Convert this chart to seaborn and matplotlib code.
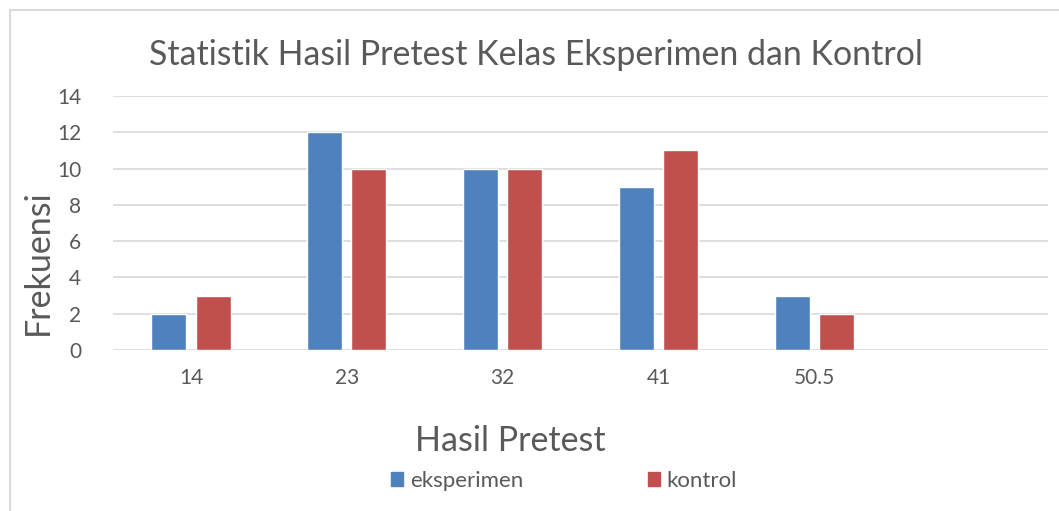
import pandas as pd
import matplotlib.pyplot as plt
import seaborn as sns
from matplotlib.patches import Rectangle
from matplotlib.lines import Line2D

# Data
categories = ['14', '23', '32', '41', '50.5']
eksperimen = [2, 12, 10, 9, 3]
kontrol = [3, 10, 10, 11, 2]

df = pd.DataFrame({
    'Hasil Pretest': categories * 2,
    'Frekuensi': eksperimen + kontrol,
    'kelas': ['eksperimen'] * len(categories) + ['kontrol'] * len(categories),
})

sns.set_style('white')
plt.rcParams['font.family'] = ['Lato', 'DejaVu Sans']
text_color = '#595959'
grid_color = '#D9D9D9'

W, H = 1059, 511
fig = plt.figure(figsize=(W / 100, H / 100), dpi=100)
ax = fig.add_axes([113 / W, 1 - 350 / H, (1048 - 113) / W, (350 - 96) / H])

sns.barplot(data=df, x='Hasil Pretest', y='Frekuensi', hue='kelas',
            order=categories, palette=['#4F81BD', '#C0504D'], saturation=1,
            width=0.57, gap=0.21, ax=ax, legend=False)

ax.set_xlim(-0.5, 5.5)
ax.set_ylim(0, 14)
ax.set_yticks(range(0, 15, 2))
ax.yaxis.grid(True, color=grid_color, linewidth=1.2)
ax.set_axisbelow(True)
for s in ax.spines.values():
    s.set_visible(False)
ax.tick_params(axis='both', length=0, labelsize=15, colors=text_color)
ax.tick_params(axis='x', pad=13)
ax.tick_params(axis='y', pad=23)
ax.set_xlabel('')
ax.set_ylabel('')

fig.text(536 / W, 1 - 55 / H, 'Statistik Hasil Pretest Kelas Eksperimen dan Kontrol',
         ha='center', va='center', fontsize=24.4, color=text_color)
fig.text(38 / W, 1 - 262 / H, 'Frekuensi', rotation=90, ha='center', va='center',
         fontsize=24.5, color=text_color)
fig.text(510 / W, 1 - 441 / H, 'Hasil Pretest', ha='center', va='center',
         fontsize=24.5, color=text_color)

# legend
handles = [Rectangle((0, 0), 1, 1, color='#4F81BD'), Rectangle((0, 0), 1, 1, color='#C0504D')]
fig.legend(handles, ['eksperimen', 'kontrol'], loc='center', ncol=2,
           bbox_to_anchor=(564 / W, 1 - 481 / H), frameon=False, fontsize=16,
           handlelength=0.55, handleheight=0.55, handletextpad=0.3,
           columnspacing=5.6, labelcolor=text_color)

# outer chart frame
fig.add_artist(Line2D([10 / W, 10 / W], [0, 1 - 10 / H], color=grid_color, linewidth=1.5))
fig.add_artist(Line2D([10 / W, 1], [1 - 10 / H, 1 - 10 / H], color=grid_color, linewidth=1.5))

fig.savefig('out.png', dpi=100)
plt.close(fig)
